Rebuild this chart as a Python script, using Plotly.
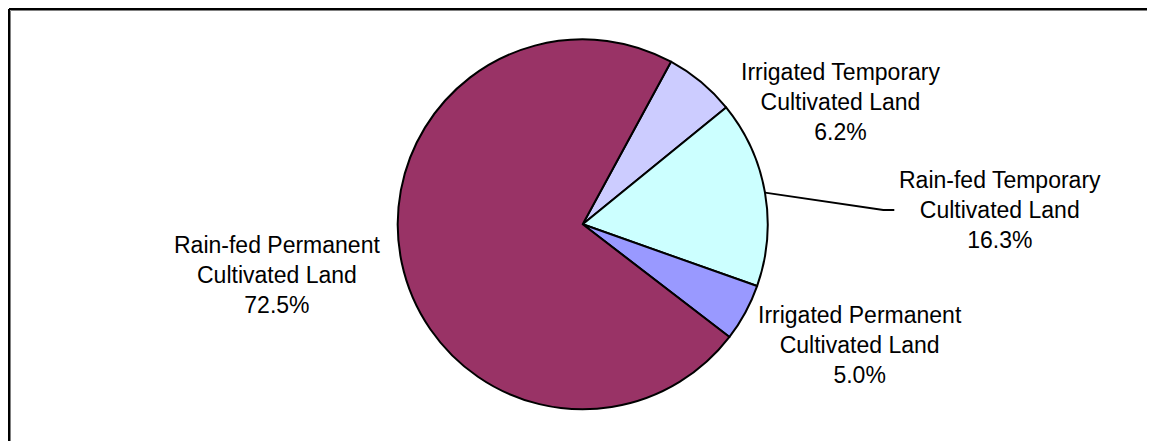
import math
import plotly.graph_objects as go

# ---- data ----
labels = ["Irrigated Temporary Cultivated Land",
          "Rain-fed Temporary Cultivated Land",
          "Irrigated Permanent Cultivated Land",
          "Rain-fed Permanent Cultivated Land"]
label_lines = [["Irrigated Temporary", "Cultivated Land"],
               ["Rain-fed Temporary", "Cultivated Land"],
               ["Irrigated Permanent", "Cultivated Land"],
               ["Rain-fed Permanent", "Cultivated Land"]]
values = [6.2, 16.3, 5.0, 72.5]
colors = ["#CCCCFF", "#CCFFFF", "#9999FF", "#993366"]

# ---- layout geometry (window pixels; page body has an 8px offset) ----
OFF = 8
W, H = 1155 - OFF, 441 - OFF
cx, cy, R = 582.7, 224.3, 185.0
rotation = 28.5

def px(x):
    return (x - OFF) / W

def py(y):
    return 1 - (y - OFF) / H

fig = go.Figure()
fig.add_trace(go.Pie(
    labels=labels,
    values=values,
    sort=False,
    direction="clockwise",
    rotation=rotation,
    marker=dict(colors=colors, line=dict(color="black", width=2)),
    textinfo="none",
    hoverinfo="label+percent",
    showlegend=False,
    domain=dict(x=[px(cx - R), px(cx + R)], y=[py(cy + R), py(cy - R)]),
))

# label anchor positions (pixel centres of each label block)
label_pos = [(840, 102), (1000, 210), (860, 344.5), (277, 274.5)]
total = sum(values)
annotations = []
for lines, v, (lx, ly) in zip(label_lines, values, label_pos):
    txt = "<br>".join(lines + [f"{v / total * 100:.1f}%"])
    annotations.append(dict(
        x=px(lx), y=py(ly), xref="paper", yref="paper",
        text=txt, showarrow=False, align="center",
        xanchor="center", yanchor="middle",
        font=dict(family="Liberation Sans, Arial, sans-serif", size=23, color="black"),
    ))

# leader line for Rain-fed Temporary slice, starting at its mid-angle on the rim
start = rotation + values[0] / total * 360
mid = math.radians(start + values[1] / total * 360 / 2)
sx, sy = cx + R * math.sin(mid), cy - R * math.cos(mid)
path = f"M {px(sx)},{py(sy)} L {px(883.3)},{py(210)} L {px(894.3)},{py(210)}"

shapes = [
    dict(type="path", path=path, xref="paper", yref="paper",
         line=dict(color="black", width=1.8)),
    # chart border: only top and left edges are visible in the picture
    dict(type="line", xref="paper", yref="paper",
         x0=px(10.5), y0=py(10.5), x1=1.0, y1=py(10.5),
         line=dict(color="#808080", width=1)),
    dict(type="line", xref="paper", yref="paper",
         x0=px(10.5), y0=py(10.5), x1=px(10.5), y1=0.0,
         line=dict(color="#808080", width=1)),
    dict(type="line", xref="paper", yref="paper",
         x0=px(9), y0=py(9), x1=1.0, y1=py(9),
         line=dict(color="black", width=2)),
    dict(type="line", xref="paper", yref="paper",
         x0=px(9), y0=py(9), x1=px(9), y1=0.0,
         line=dict(color="black", width=2)),
]

fig.update_layout(
    width=W, height=H,
    margin=dict(l=0, r=0, t=0, b=0),
    paper_bgcolor="white", plot_bgcolor="white",
    annotations=annotations,
    shapes=shapes,
    showlegend=False,
)

fig.write_html(
    "out.html",
    config={"displayModeBar": False},
    post_script="document.documentElement.style.overflow='hidden';"
                "document.body.style.overflow='hidden';",
)
